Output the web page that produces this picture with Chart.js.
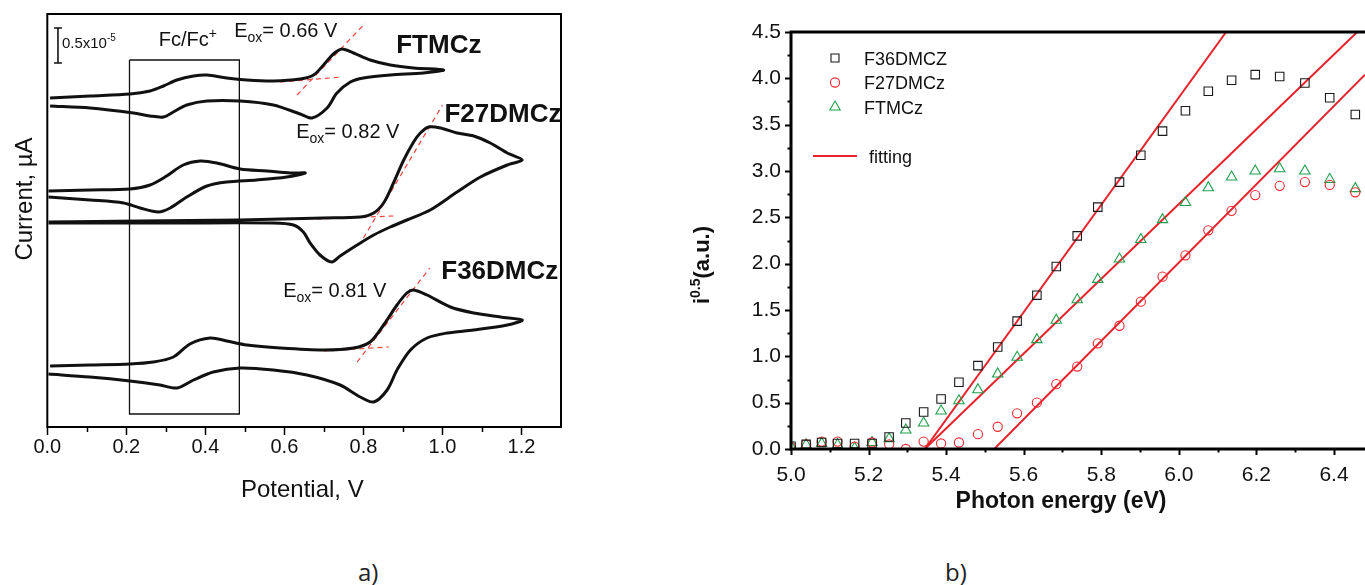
<!DOCTYPE html>
<html>
<head>
<meta charset="utf-8">
<script src="https://cdn.jsdelivr.net/npm/chart.js@4.4.1/dist/chart.umd.min.js"></script>
<style>
  html, body { margin: 0; padding: 0; background: #fff; }
  body { width: 1365px; height: 585px; position: relative; overflow: hidden; }
  #cvChart { position: absolute; left: 0; top: 0; }
  #upsChart { position: absolute; left: 680px; top: 0; }
  .panelTag { position: absolute; top: 555px; font: 24px "Open Sans", sans-serif; color: #222; line-height: normal; }
</style>
</head>
<body>
<canvas id="cvChart" width="570" height="520"></canvas>
<canvas id="upsChart" width="685" height="520"></canvas>
<div class="panelTag" style="left:358px">a)</div>
<div class="panelTag" style="left:945px">b)</div>
<script>
const FONT = '"Liberation Sans", Arial, sans-serif';

// ---- a) cyclic voltammograms: potential (V) vs current (arbitrary offset units)
const potentialTicks = [0.0, 0.2, 0.4, 0.6, 0.8, 1.0, 1.2];

const ftmczPotential = [0.007, 0.108, 0.209, 0.260, 0.294, 0.328, 0.370, 0.404, 0.454, 0.505, 0.572, 0.640, 0.674, 0.699, 0.724, 0.746, 0.775, 0.817, 0.868, 0.927, 1.003,
  0.952, 0.868, 0.800, 0.767, 0.733, 0.708, 0.670, 0.640, 0.572, 0.488, 0.404, 0.353, 0.319, 0.294, 0.260, 0.218, 0.108, 0.007];
const ftmczCurrent = [32.9, 33.1, 33.3, 33.6, 34.1, 34.7, 35.1, 35.2, 34.9, 34.7, 34.6, 34.8, 35.2, 36.2, 37.3, 37.8, 37.4, 36.7, 36.2, 35.9, 35.7,
  35.4, 35.2, 34.9, 34.5, 33.4, 31.9, 30.9, 31.3, 32.2, 32.6, 32.6, 32.2, 31.5, 31.0, 31.1, 31.4, 31.9, 32.1];

const fcPotential = [0.003, 0.108, 0.209, 0.260, 0.302, 0.344, 0.387, 0.429, 0.488, 0.556, 0.615, 0.653,
  0.606, 0.530, 0.454, 0.404, 0.353, 0.311, 0.281, 0.235, 0.193, 0.108, 0.003];
const fcCurrent = [23.6, 23.7, 23.8, 24.2, 25.1, 26.2, 26.6, 26.4, 25.8, 25.6, 25.4, 25.4,
  25.0, 24.7, 24.5, 24.1, 23.0, 21.9, 21.5, 21.9, 22.4, 22.7, 23.0];

const f27Potential = [0.003, 0.235, 0.488, 0.699, 0.792, 0.826, 0.851, 0.876, 0.902, 0.927, 0.944, 0.965, 0.995, 1.037, 1.079, 1.121, 1.164, 1.202,
  1.164, 1.096, 1.037, 0.969, 0.910, 0.868, 0.826, 0.784, 0.741, 0.720, 0.690, 0.665, 0.648, 0.623, 0.572, 0.319, 0.003];
const f27Current = [20.5, 20.6, 20.7, 20.9, 21.0, 21.4, 22.4, 24.4, 26.7, 28.5, 29.4, 30.0, 29.9, 29.4, 29.1, 28.4, 27.4, 26.7,
  26.2, 25.0, 23.5, 21.7, 20.7, 20.0, 19.2, 18.2, 17.1, 16.5, 17.2, 18.4, 19.5, 20.2, 20.4, 20.4, 20.4];

const f36Potential = [0.007, 0.108, 0.209, 0.268, 0.319, 0.361, 0.412, 0.454, 0.505, 0.589, 0.699, 0.775, 0.817, 0.851, 0.885, 0.910, 0.927, 0.961, 1.020, 1.079, 1.147, 1.202,
  1.164, 1.079, 1.012, 0.961, 0.919, 0.885, 0.860, 0.826, 0.792, 0.741, 0.657, 0.572, 0.488, 0.420, 0.370, 0.328, 0.285, 0.209, 0.108, 0.003];
const f36Current = [6.1, 6.2, 6.3, 6.5, 7.0, 8.3, 8.9, 8.6, 8.2, 7.9, 7.7, 7.9, 8.5, 10.2, 12.2, 13.4, 13.7, 13.2, 12.0, 11.4, 11.0, 10.7,
  10.2, 9.7, 9.4, 8.9, 7.7, 5.7, 3.7, 2.5, 3.0, 4.2, 5.2, 5.7, 5.9, 5.5, 4.7, 3.9, 4.2, 4.6, 5.0, 5.3];

// onset tangents (dashed red)
const ftmSlopeX = [0.632, 0.805], ftmSlopeY = [33.2, 40.4];
const ftmBaseX = [0.589, 0.746], ftmBaseY = [34.5, 35.0];
const f27SlopeX = [0.800, 1.000], f27SlopeY = [18.9, 32.2];
const f27BaseX = [0.682, 0.876], f27BaseY = [20.8, 21.1];
const f36SlopeX = [0.784, 0.968], f36SlopeY = [6.5, 15.9];
const f36BaseX = [0.699, 0.864], f36BaseY = [7.6, 8.0];

// Fc/Fc+ window and current scale bar
const fcBoxX = [0.208, 0.486, 0.486, 0.208, 0.208];
const fcBoxY = [36.7, 36.7, 1.3, 1.3, 36.7];
const scaleBarX = [0.017, 0.037, 0.027, 0.027, 0.017, 0.037];
const scaleBarY = [39.9, 39.9, 39.9, 36.4, 36.4, 36.4];

// ---- b) photoemission: photon energy (eV) vs i^0.5
const energyTicks = [5.0, 5.2, 5.4, 5.6, 5.8, 6.0, 6.2, 6.4];
const intensityTicks = [0, 0.5, 1.0, 1.5, 2.0, 2.5, 3.0, 3.5, 4.0, 4.5];

const photonEnergy = [5.000, 5.039, 5.079, 5.120, 5.164, 5.209, 5.253, 5.296, 5.342, 5.387, 5.433, 5.482, 5.533, 5.583, 5.634, 5.684, 5.738, 5.791, 5.847, 5.902, 5.958, 6.017, 6.076, 6.136, 6.197, 6.260, 6.325, 6.389, 6.455];
const f36Intensity = [0.03, 0.05, 0.07, 0.06, 0.06, 0.06, 0.13, 0.28, 0.40, 0.54, 0.72, 0.90, 1.10, 1.38, 1.66, 1.97, 2.30, 2.61, 2.88, 3.17, 3.43, 3.65, 3.86, 3.98, 4.04, 4.02, 3.95, 3.79, 3.61];
const f27Intensity = [0.02, 0.05, 0.08, 0.08, 0.025, 0.07, 0.05, 0.0, 0.08, 0.06, 0.07, 0.16, 0.24, 0.385, 0.50, 0.70, 0.89, 1.14, 1.33, 1.59, 1.86, 2.09, 2.36, 2.57, 2.74, 2.84, 2.88, 2.85, 2.77];
const ftmIntensity = [0.025, 0.045, 0.06, 0.045, 0.01, 0.07, 0.11, 0.205, 0.28, 0.41, 0.52, 0.64, 0.81, 0.99, 1.18, 1.39, 1.61, 1.83, 2.05, 2.26, 2.475, 2.66, 2.82, 2.935, 3.00, 3.025, 3.00, 2.91, 2.81];

const fitF36X = [5.345, 6.122], fitF36Y = [0, 4.5];
const fitFtmX = [5.345, 6.460], fitFtmY = [0, 4.5];
const fitF27X = [5.524, 6.480], fitF27Y = [0, 4.04];

function xy(xs, ys) {
  return xs.map((x, i) => ({ x, y: ys[i] }));
}

function drawRich(ctx, parts, x, y, align, rotate) {
  ctx.save();
  ctx.translate(x, y);
  if (rotate) ctx.rotate(rotate);
  ctx.textAlign = 'left';
  ctx.textBaseline = 'alphabetic';
  ctx.fillStyle = '#111';
  let w = 0;
  parts.forEach(p => { ctx.font = p.f + ' ' + FONT; w += ctx.measureText(p.t).width; });
  let cx = align === 'center' ? -w / 2 : 0;
  parts.forEach(p => {
    ctx.font = p.f + ' ' + FONT;
    ctx.fillText(p.t, cx, p.dy || 0);
    cx += ctx.measureText(p.t).width;
  });
  ctx.restore();
}

function textPlugin(id, items) {
  return {
    id,
    afterDraw(chart) {
      items.forEach(it => {
        const [x, y] = it.at(chart);
        drawRich(chart.ctx, it.parts, x, y, it.align, it.rotate);
      });
    }
  };
}

function tickSet(scale) {
  const vals = scale.ticks.map(t => t.value);
  const step = vals[1] - vals[0];
  const out = vals.map(v => [v, true]);
  vals.forEach(v => {
    const m = v + step / 2;
    if (m < scale.max - 1e-6) out.push([m, false]);
  });
  return out;
}

function framePlugin(cfg) {
  return {
    id: 'frameTicks',
    afterDatasetsDraw(chart) {
      const { ctx, chartArea: a } = chart;
      ctx.save();
      ctx.strokeStyle = '#000';
      ctx.lineWidth = cfg.tickWidth;
      const sx = chart.scales.x;
      tickSet(sx).forEach(([v, major]) => {
        const p = Math.round(sx.getPixelForValue(v)) + 0.5;
        ctx.beginPath();
        ctx.moveTo(p, a.bottom);
        ctx.lineTo(p, a.bottom + (major ? cfg.major : cfg.minor));
        ctx.stroke();
      });
      if (cfg.yTicks) {
        const sy = chart.scales.y;
        tickSet(sy).forEach(([v, major]) => {
          const p = Math.round(sy.getPixelForValue(v)) + 0.5;
          ctx.beginPath();
          ctx.moveTo(a.left, p);
          ctx.lineTo(a.left - (major ? cfg.major : cfg.minor), p);
          ctx.stroke();
        });
      }
      ctx.lineWidth = cfg.frameWidth;
      ctx.beginPath();
      if (cfg.closed) {
        ctx.rect(a.left, a.top, a.right - a.left, a.bottom - a.top);
      } else {
        ctx.moveTo(a.right, a.top);
        ctx.lineTo(a.left, a.top);
        ctx.lineTo(a.left, a.bottom);
        ctx.lineTo(a.right, a.bottom);
      }
      ctx.stroke();
      ctx.restore();
    }
  };
}

function cvCurve(label, xs, ys) {
  return { label, data: xy(xs, ys), showLine: true, borderColor: '#111', borderWidth: 3, tension: 0.3, pointRadius: 0 };
}

function tangent(xs, ys) {
  return { data: xy(xs, ys), showLine: true, borderColor: '#f2453d', borderWidth: 1.2, borderDash: [5, 4], pointRadius: 0, tension: 0 };
}

// annotations placed in data space of panel a)
const cvNotes = [
  { x: 0.883, y: 37.4, parts: [{ t: 'FTMCz', f: 'bold 26px' }] },
  { x: 1.005, y: 30.5, parts: [{ t: 'F27DMCz', f: 'bold 26px' }] },
  { x: 0.997, y: 14.8, parts: [{ t: 'F36DMCz', f: 'bold 26px' }] },
  { x: 0.473, y: 39.0, parts: [{ t: 'E', f: '20px' }, { t: 'ox', f: '14px', dy: 5 }, { t: '= 0.66 V', f: '20px' }] },
  { x: 0.630, y: 28.9, parts: [{ t: 'E', f: '20px' }, { t: 'ox', f: '14px', dy: 5 }, { t: '= 0.82 V', f: '20px' }] },
  { x: 0.597, y: 13.0, parts: [{ t: 'E', f: '20px' }, { t: 'ox', f: '14px', dy: 5 }, { t: '= 0.81 V', f: '20px' }] },
  { x: 0.282, y: 38.1, parts: [{ t: 'Fc/Fc', f: '20px' }, { t: '+', f: '14px', dy: -8 }] },
  { x: 0.037, y: 37.9, parts: [{ t: '0.5x10', f: '15px' }, { t: '-5', f: '10px', dy: -7 }] }
];

const cvText = textPlugin('cvText', [
  ...cvNotes.map(n => ({
    parts: n.parts,
    at: c => [c.scales.x.getPixelForValue(n.x), c.scales.y.getPixelForValue(n.y)]
  })),
  { parts: [{ t: 'Potential, V', f: '24px' }], align: 'center', at: c => [c.chartArea.left + 255, c.chartArea.bottom + 70] },
  { parts: [{ t: 'Current, \u00b5A', f: '24px' }], align: 'center', rotate: -Math.PI / 2, at: c => [c.chartArea.left - 15, c.chartArea.top + 185] }
]);

new Chart(document.getElementById('cvChart'), {
  type: 'scatter',
  data: {
    datasets: [
      cvCurve('FTMCz', ftmczPotential, ftmczCurrent),
      cvCurve('Fc/Fc+', fcPotential, fcCurrent),
      cvCurve('F27DMCz', f27Potential, f27Current),
      cvCurve('F36DMCz', f36Potential, f36Current),
      tangent(ftmSlopeX, ftmSlopeY), tangent(ftmBaseX, ftmBaseY),
      tangent(f27SlopeX, f27SlopeY), tangent(f27BaseX, f27BaseY),
      tangent(f36SlopeX, f36SlopeY), tangent(f36BaseX, f36BaseY),
      { data: xy(fcBoxX, fcBoxY), showLine: true, borderColor: '#111', borderWidth: 1.3, pointRadius: 0, tension: 0 },
      { data: xy(scaleBarX, scaleBarY), showLine: true, borderColor: '#111', borderWidth: 1.6, pointRadius: 0, tension: 0 }
    ]
  },
  options: {
    responsive: false,
    animation: false,
    devicePixelRatio: 1,
    layout: { autoPadding: false, padding: { top: 14, right: 9, left: 0, bottom: 0 } },
    plugins: { legend: { display: false }, tooltip: { enabled: false } },
    scales: {
      x: {
        type: 'linear', min: 0, max: 1.3,
        afterBuildTicks: s => { s.ticks = potentialTicks.map(v => ({ value: v })); },
        afterFit: s => { s.height = 93; s.paddingLeft = 0; s.paddingRight = 0; },
        grid: { display: false, drawTicks: false },
        border: { display: false },
        ticks: { padding: 8, color: '#111', font: { family: FONT, size: 20 }, maxRotation: 0, autoSkip: false, callback: v => v.toFixed(1) }
      },
      y: {
        type: 'linear', min: 0, max: 41.3,
        afterFit: s => { s.width = 47.3; },
        grid: { display: false, drawTicks: false },
        border: { display: false },
        ticks: { display: false }
      }
    }
  },
  plugins: [framePlugin({ tickWidth: 1.5, major: 8, minor: 5, frameWidth: 2, closed: true, yTicks: false }), cvText]
});

// ---- panel b)
function markers(label, ys, style, radius, color) {
  return { label, data: xy(photonEnergy, ys), pointStyle: style, pointRadius: radius, pointBorderWidth: 1.1,
    borderColor: color, pointBorderColor: color, backgroundColor: 'rgba(0,0,0,0)', pointBackgroundColor: 'rgba(0,0,0,0)', showLine: false };
}

function fitLine(xs, ys) {
  return { label: 'fitting', data: xy(xs, ys), showLine: true, borderColor: '#e8212b', borderWidth: 2, pointRadius: 0, tension: 0 };
}

const upsLegend = {
  id: 'upsLegend',
  afterDraw(chart) {
    const { ctx, chartArea: a } = chart;
    const sets = chart.data.datasets;
    ctx.save();
    ctx.lineWidth = 1.1;
    [0, 1, 2].forEach((i, row) => {
      const ds = sets[i];
      const mx = a.left + 44, my = a.top + 26 + row * 24.5;
      ctx.strokeStyle = ds.pointBorderColor;
      ctx.beginPath();
      if (ds.pointStyle === 'rect') {
        ctx.rect(mx - 4, my - 4, 8, 8);
      } else if (ds.pointStyle === 'circle') {
        ctx.arc(mx, my, 4.6, 0, Math.PI * 2);
      } else {
        ctx.moveTo(mx, my - 6); ctx.lineTo(mx + 5.2, my + 3); ctx.lineTo(mx - 5.2, my + 3); ctx.closePath();
      }
      ctx.stroke();
      drawRich(ctx, [{ t: ds.label, f: '18px' }], a.left + 73, my + 6.5);
    });
    const fy = a.top + 124;
    ctx.strokeStyle = sets[3].borderColor;
    ctx.lineWidth = 2;
    ctx.beginPath();
    ctx.moveTo(a.left + 22, fy); ctx.lineTo(a.left + 66, fy);
    ctx.stroke();
    drawRich(ctx, [{ t: sets[3].label, f: '18px' }], a.left + 78, fy + 6.5);
    ctx.restore();
  }
};

const upsText = textPlugin('upsText', [
  { parts: [{ t: 'Photon energy (eV)', f: 'bold 23px' }], align: 'center', at: c => [c.chartArea.left + 270, c.chartArea.bottom + 59] },
  { parts: [{ t: 'i', f: 'bold 22px' }, { t: '0.5', f: 'bold 14px', dy: -9 }, { t: '(a.u.)', f: 'bold 22px' }],
    align: 'center', rotate: -Math.PI / 2, at: c => [c.chartArea.left - 82, c.chartArea.top + 233] }
]);

new Chart(document.getElementById('upsChart'), {
  type: 'scatter',
  data: {
    datasets: [
      markers('F36DMCZ', f36Intensity, 'rect', 6, '#1a1a1a'),
      markers('F27DMCz', f27Intensity, 'circle', 4.6, '#f2272c'),
      markers('FTMCz', ftmIntensity, 'triangle', 6, '#1f9f4b'),
      fitLine(fitF36X, fitF36Y),
      fitLine(fitFtmX, fitFtmY),
      fitLine(fitF27X, fitF27Y)
    ]
  },
  options: {
    responsive: false,
    animation: false,
    devicePixelRatio: 1,
    layout: { autoPadding: false, padding: { top: 32, right: 0, left: 0, bottom: 0 } },
    plugins: { legend: { display: false }, tooltip: { enabled: false } },
    scales: {
      x: {
        type: 'linear', min: 5.0, max: 6.48,
        afterBuildTicks: s => { s.ticks = energyTicks.map(v => ({ value: v })); },
        afterFit: s => { s.height = 71; s.paddingLeft = 0; s.paddingRight = 0; },
        grid: { display: false, drawTicks: false },
        border: { display: false },
        ticks: { padding: 14, color: '#111', font: { family: FONT, size: 21 }, maxRotation: 0, autoSkip: false, callback: v => v.toFixed(1) }
      },
      y: {
        type: 'linear', min: 0, max: 4.5,
        afterBuildTicks: s => { s.ticks = intensityTicks.map(v => ({ value: v })); },
        afterFit: s => { s.width = 111; s.paddingTop = 0; s.paddingBottom = 0; },
        grid: { display: false, drawTicks: false },
        border: { display: false },
        ticks: { padding: 10, color: '#111', font: { family: FONT, size: 21 }, autoSkip: false, callback: v => v.toFixed(1) }
      }
    }
  },
  plugins: [framePlugin({ tickWidth: 2, major: 6, minor: 3.5, frameWidth: 3, closed: false, yTicks: true }), upsLegend, upsText]
});
</script>
</body>
</html>
